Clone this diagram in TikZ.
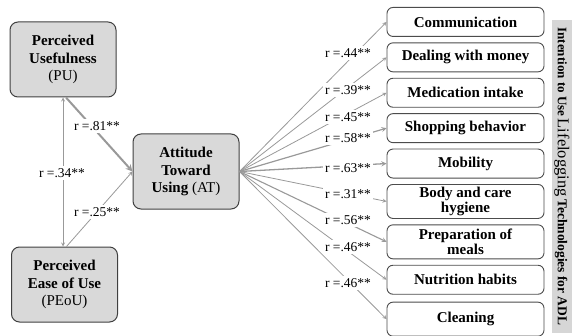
\documentclass[tikz,border=0pt]{standalone}
\usepackage{fontspec}
\setmainfont{Liberation Serif}
\usetikzlibrary{positioning}

\begin{document}
\begin{tikzpicture}[x=1pt,y=1pt,
	main/.style = {draw=black!75, fill=black!15, rounded corners=8pt, line width=1pt, minimum width=106pt, minimum height=75pt, align=center, inner sep=2pt, font=\bfseries\fontsize{15}{17.5}\selectfont},
	act/.style = {draw=black!70, fill=white, rounded corners=6pt, line width=0.9pt, minimum width=157pt, minimum height=29pt, align=center, inner sep=1pt, font=\bfseries\fontsize{15}{12}\selectfont},
	corr/.style = {fill=white, inner sep=2pt, font=\fontsize{13.5}{15}\selectfont},
	link/.style = {draw=black!40, line width=0.8pt, -stealth}]
	\useasboundingbox (0,0) rectangle (572,335);
	% TAM constructs
	\node[main] (PU) at (63,275.5) {Perceived\\Usefulness\\\mdseries (PU)};
	\node[main] (AT) at (186,163.5) {Attitude\\Toward\\Using \mdseries(AT)};
	\node[main] (PEoU) at (64.5,50.5) {Perceived\\Ease of Use\\\mdseries (PEoU)};
	% activities of daily living
	\node[act, anchor=north] (com) at (465.5,328) {Communication};
	\node[act] (mon) [below=5.5pt of com] {Dealing with money};
	\node[act] (med) [below=5.5pt of mon] {Medication intake};
	\node[act] (shop) [below=5.5pt of med] {Shopping behavior};
	\node[act] (mob) [below=5.5pt of shop] {Mobility};
	\node[act, minimum height=34pt] (hyg) [below=5.5pt of mob] {Body and care\\hygiene};
	\node[act, minimum height=34pt] (meal) [below=5.5pt of hyg] {Preparation of\\meals};
	\node[act] (nut) [below=5.5pt of meal] {Nutrition habits};
	\node[act, minimum height=34pt] (cln) [below=7pt of nut] {Cleaning};
	\node[fill=black!16, rotate=-90, minimum width=313pt, minimum height=20pt, inner sep=0pt] (itu) at (562,158.5)
		{{\bfseries\fontsize{13}{15}\selectfont Intention to Use} {\fontsize{16.5}{18}\selectfont Lifelogging} {\bfseries\fontsize{13.5}{15}\selectfont Technologies for ADL}};
	% connectors
	\draw[link, stealth-stealth] (PU.south) -- (PU.south |- PEoU.north);
	\draw[link, line width=2pt] ([xshift=3pt]PU.south) -- (AT.west);
	\draw[link] ([xshift=2pt]PEoU.north) -- (AT.west);
	\draw[link] (AT.east) -- (com.west);
	\draw[link] (AT.east) -- (mon.west);
	\draw[link] (AT.east) -- (med.west);
	\draw[link, line width=1.2pt] (AT.east) -- (shop.west);
	\draw[link, line width=1.3pt] (AT.east) -- (mob.west);
	\draw[link] (AT.east) -- (hyg.west);
	\draw[link, line width=1.1pt] (AT.east) -- (meal.west);
	\draw[link] (AT.east) -- (nut.west);
	\draw[link] (AT.east) -- (cln.west);
	% correlations
	\node[corr] (r81) at (97,209) {r =.81**};
	\node[corr] (r34) at (62,162) {r =.34**};
	\node[corr] (r25) at (97,123) {r =.25**};
	\node[corr] (r44) at (348,282) {r =.44**};
	\node[corr] (r39) at (348,245) {r =.39**};
	\node[corr] (r45) at (348,218) {r =.45**};
	\node[corr] (r58) at (348,197) {r =.58**};
	\node[corr] (r63) at (348,167) {r =.63**};
	\node[corr] (r31) at (348,141) {r =.31**};
	\node[corr] (r56) at (348,115) {r =.56**};
	\node[corr] (r46a) at (348,88) {r =.46**};
	\node[corr] (r46b) at (348,52) {r =.46**};
\end{tikzpicture}
\end{document}
